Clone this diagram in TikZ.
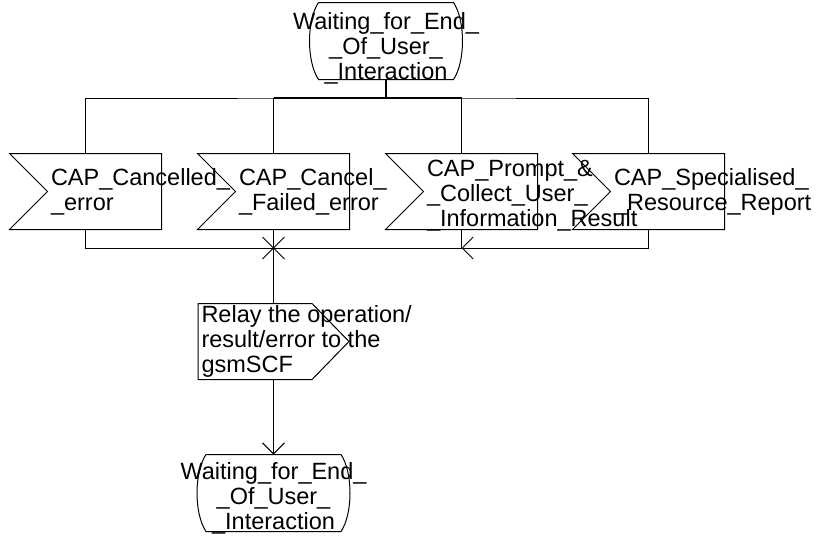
\documentclass[tikz,border=0pt]{standalone}
\usepackage{fontspec}
\setmainfont{Liberation Sans}
\usetikzlibrary{arrows.meta,calc}

\begin{document}
\begin{tikzpicture}[x=1pt, y=-1pt, line width=1pt,
    statebox/.style={rectangle, inner sep=0pt, minimum width=152pt, minimum height=76pt},
    sigbox/.style={rectangle, inner sep=0pt, minimum width=151pt, minimum height=75pt},
    txt/.style={inner sep=0pt, font=\fontsize{23.5}{25}\selectfont},
    arrow/.style={-{Straight Barb[length=11pt, width=22pt]}}
]
\path[use as bounding box, fill=white] (0,0) rectangle (818,536);

% states
\node[statebox] (wait) at (386,41) {};
\node[statebox] (wait2) at (273.5,493) {};
\foreach \s in {wait,wait2}
  \draw ($(\s.north west)+(9,0)$) -- ($(\s.north east)+(-9,0)$)
    .. controls ($(\s.north east)+(3,18)$) and ($(\s.south east)+(3,-18)$) .. ($(\s.south east)+(-9,0)$)
    -- ($(\s.south west)+(9,0)$)
    .. controls ($(\s.south west)+(-3,-18)$) and ($(\s.north west)+(-3,18)$) .. ($(\s.north west)+(9,0)$);
\node[txt, align=center] (waitt) at (386,48) {Waiting\_for\_End\_\\\_Of\_User\_\\\_Interaction};
\node[txt, align=center] (wait2t) at (273.5,498) {Waiting\_for\_End\_\\\_Of\_User\_\\\_Interaction};

% input signals
\node[sigbox] (cancelled) at (85.5,191.5) {};
\node[sigbox] (cancelfail) at (273.5,191.5) {};
\node[sigbox] (prompt) at (461.5,191.5) {};
\node[sigbox] (report) at (648.5,191.5) {};
\foreach \n in {cancelled,cancelfail,prompt,report}
  \draw (\n.north west) -- (\n.north east) -- (\n.south east) -- (\n.south west) -- ($(\n.west)+(38,0)$) -- cycle;
\node[txt, align=left, anchor=west] (cancelledt) at ($(cancelled.west)+(41,0)$) {CAP\_Cancelled\_\\\_error};
\node[txt, align=left, anchor=west] (cancelfailt) at ($(cancelfail.west)+(41,0)$) {CAP\_Cancel\_\\\_Failed\_error};
\node[txt, align=left, anchor=west] (promptt) at ($(prompt.west)+(41,4)$) {CAP\_Prompt\_\&\\\_Collect\_User\_\\\_Information\_Result};
\node[txt, align=left, anchor=west] (reportt) at ($(report.west)+(41,0)$) {CAP\_Specialised\_\\\_Resource\_Report};

% output signal
\node[sigbox, minimum width=150pt] (relay) at (273.5,341.5) {};
\draw (relay.north west) -- ($(relay.north east)+(-37,0)$) -- (relay.east) -- ($(relay.south east)+(-37,0)$) -- (relay.south west) -- cycle;
\node[txt, align=left, anchor=west] (relayt) at ($(relay.west)+(3,0)$) {Relay the operation/\\result/error to the\\gsmSCF};

% flow lines
\coordinate (fork) at (386,98);
\coordinate (join) at (273.5,248);
\draw (cancelled.north) |- (fork) -| (report.north);
\draw (cancelfail.north) -- (cancelfail.north |- fork);
\draw (prompt.north) -- (prompt.north |- fork);
\draw[line width=2pt] (wait.south) -- (fork);
\draw[line width=2pt] (cancelfail.north |- fork) -- (prompt.north |- fork);
\draw (cancelled.south) |- (join);
\draw (prompt.south) |- (join);
\draw[arrow] (report.south) |- (prompt.south |- join);
\draw (cancelfail.south) -- (relay.north);
\draw ($(join)+(-11,-11)$) -- ($(join)+(11,11)$);
\draw ($(join)+(-11,11)$) -- ($(join)+(11,-11)$);
\draw[arrow] (relay.south) -- (wait2.north);
\end{tikzpicture}
\end{document}
